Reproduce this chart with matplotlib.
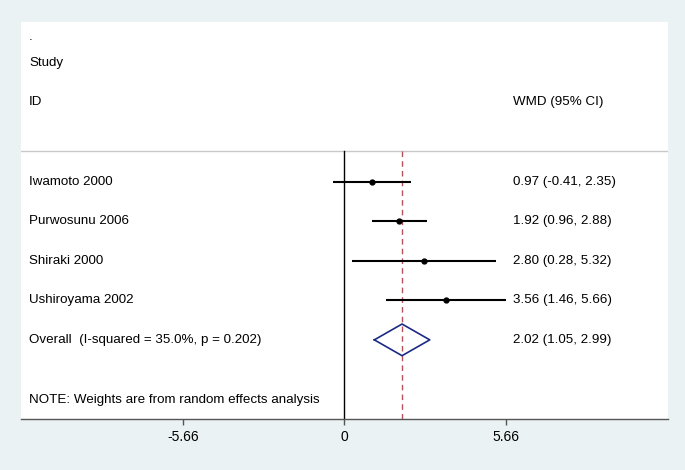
import matplotlib.pyplot as plt

plt.rcParams['font.family'] = ['Liberation Sans', 'DejaVu Sans']

# study data
studies = ['Iwamoto 2000', 'Purwosunu 2006', 'Shiraki 2000', 'Ushiroyama 2002']
wmd = [0.97, 1.92, 2.80, 3.56]
ci_low = [-0.41, 0.96, 0.28, 1.46]
ci_high = [2.35, 2.88, 5.32, 5.66]

overall_label = 'Overall  (I-squared = 35.0%, p = 0.202)'
overall_wmd = 2.02
overall_low = 1.05
overall_high = 2.99

xticks = [-5.66, 0, 5.66]
xtick_labels = ['-5.66', '0', '5.66']

bg = '#eaf2f3'
fs = 9.6
fig = plt.figure(figsize=(6.85, 4.7), dpi=100, facecolor=bg)
ax = fig.add_axes([0.0307, 0.1085, 0.944, 0.8445])
ax.set_facecolor('white')
ax.set_xlim(-11.32, 11.32)
ax.set_ylim(6.0, -4.03)

for s in ['top', 'left', 'right']:
    ax.spines[s].set_visible(False)
ax.spines['bottom'].set_color('#555555')
ax.spines['bottom'].set_linewidth(1.0)
ax.set_yticks([])
ax.set_xticks(xticks)
ax.set_xticklabels(xtick_labels)
ax.tick_params(axis='x', length=4.3, width=1.0, color='#555555', pad=3.6, labelsize=10)

# text columns in axes fraction
trans = ax.get_yaxis_transform()
lx = (29 - 21) / 647
rx = (513 - 21) / 647

# header
ax.text(lx, -3.65, '.', transform=trans, fontsize=fs, va='center')
ax.text(lx, -3.0, 'Study', transform=trans, fontsize=fs, va='center')
ax.text(lx, -2.0, 'ID', transform=trans, fontsize=fs, va='center')
ax.text(rx, -2.0, 'WMD (95% CI)', transform=trans, fontsize=fs, va='center')
ax.axhline(-0.77, color='#c8c8c8', lw=1.0)

# reference lines
ax.plot([0, 0], [-0.77, 6.0], color='black', lw=1.0)
ax.plot([overall_wmd, overall_wmd], [-0.77, 6.0], color='#b5525c', lw=1.0, ls=(0, (4, 3)))

for i, name in enumerate(studies):
    ax.plot([ci_low[i], ci_high[i]], [i, i], color='black', lw=1.5, solid_capstyle='butt')
    ax.plot(wmd[i], i, 'o', color='black', markersize=3.5)
    ax.text(lx, i, name, transform=trans, fontsize=fs, va='center')
    ax.text(rx, i, f'{wmd[i]:.2f} ({ci_low[i]:.2f}, {ci_high[i]:.2f})',
            transform=trans, fontsize=fs, va='center')

# overall diamond
k = len(studies)
h = 0.4
ax.plot([overall_low, overall_wmd, overall_high, overall_wmd, overall_low],
        [k, k - h, k, k + h, k], color='#1c2a85', lw=1.2)
ax.text(lx, k, overall_label, transform=trans, fontsize=fs, va='center')
ax.text(rx, k, f'{overall_wmd:.2f} ({overall_low:.2f}, {overall_high:.2f})',
        transform=trans, fontsize=fs, va='center')

ax.text(lx, 5.52, 'NOTE: Weights are from random effects analysis', transform=trans,
        fontsize=fs, va='center')

fig.savefig('out.png', dpi=100, facecolor=bg)
